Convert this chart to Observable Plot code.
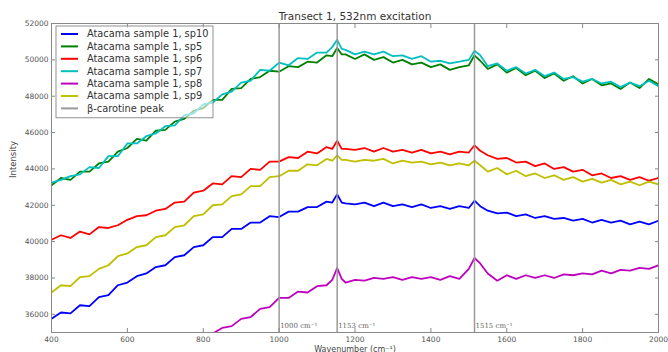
<!DOCTYPE html>
<html>
<head>
<meta charset="utf-8">
<script src="https://cdn.jsdelivr.net/npm/d3@7"></script>
<script src="https://cdn.jsdelivr.net/npm/@observablehq/plot@0.6"></script>
<style>
  html, body { margin: 0; padding: 0; background: #fff; }
  #chart { width: 668px; height: 352px; }
</style>
</head>
<body>
<div id="chart"></div>
<script>
const title = "Transect 1, 532nm excitation";
const xLabel = "Wavenumber (cm⁻¹)";
const yLabel = "Intensity";
const xTicks = [400, 600, 800, 1000, 1200, 1400, 1600, 1800, 2000];
const yTicks = [36000, 38000, 40000, 42000, 44000, 46000, 48000, 50000, 52000];
const peaks = [1000, 1153, 1515];
const peakLabels = ["1000 cm⁻¹", "1153 cm⁻¹", "1515 cm⁻¹"];
const seriesNames = ["Atacama sample 1, sp10", "Atacama sample 1, sp5", "Atacama sample 1, sp6",
  "Atacama sample 1, sp7", "Atacama sample 1, sp8", "Atacama sample 1, sp9"];
const seriesColors = ["#0000ff", "#008000", "#ff0000", "#00bfbf", "#bf00bf", "#bfbf00"];
const peakName = "β-carotine peak";
const peakColor = "#9a9a9a";

const wavenumber = [400,425,450,475,500,525,550,575,600,625,650,675,700,725,750,775,800,825,850,875,900,925,950,975,
  1000,1025,1050,1075,1100,1125,1140,1153,1165,1175,1200,1225,1250,1275,1300,1325,1350,1375,1400,1425,1450,1475,1500,
  1515,1530,1550,1575,1600,1625,1650,1675,1700,1725,1750,1775,1800,1825,1850,1875,1900,1925,1950,1975,2000];

const sp10 = [35750,36100,36050,36500,36450,36950,37050,37600,37750,38100,38250,38600,38700,39150,39250,39700,39800,40250,40250,40700,40700,41050,41050,41400,
  41350,41650,41650,41900,41900,42200,42150,42600,42150,42100,42050,42150,41950,42150,41950,42050,41900,42050,41850,41950,41800,41950,41850,
  42250,41950,41700,41550,41600,41400,41500,41300,41400,41250,41300,41150,41250,41050,41200,41050,41150,40950,41100,40950,41150];
const sp5 = [43100,43500,43400,43850,43850,44300,44400,44950,45150,45650,45550,46100,46150,46600,46750,47200,47350,47800,47800,48400,48450,48950,49050,49400,
  49350,49650,49600,49900,49850,50250,50200,50650,50300,50300,50050,50300,50000,50150,49850,50000,49750,49850,49600,49750,49450,49600,49700,
  50250,49950,49500,49750,49300,49550,49150,49400,49000,49250,48850,49100,48700,48950,48600,48700,48400,48750,48450,48950,48650];
const sp6 = [40100,40350,40200,40550,40400,40800,40750,40900,41200,41400,41450,41700,41800,42150,42200,42700,42800,43200,43150,43600,43550,44000,43950,44400,
  44400,44650,44600,44950,44850,45200,45100,45550,45100,45100,45050,45150,44950,45150,44950,45050,44900,45050,44850,44950,44800,44950,44900,
  45300,45000,44750,44550,44600,44350,44400,44150,44300,44000,44100,43850,43950,43650,43750,43500,43600,43400,43550,43350,43500];
const sp7 = [43250,43400,43600,43700,44100,44050,44700,44700,45400,45400,45800,45950,46350,46400,46950,47050,47550,47650,48100,48250,48750,48850,49450,49400,
  49850,49700,50100,50050,50400,50400,50700,51100,50600,50550,50300,50450,50300,50450,50200,50250,50050,50200,49900,49950,49800,49900,50000,
  50500,50250,49650,49800,49400,49600,49250,49450,49100,49300,48950,49050,48800,48950,48700,48800,48500,48750,48550,48850,48550];
const sp8 = [null,null,null,null,null,null,null,null,null,null,null,null,null,null,null,null,null,34950,35250,35350,35750,35850,36300,36400,
  36900,36900,37250,37200,37550,37600,37900,38550,37950,37750,37900,37850,38000,37950,38050,37900,38050,37950,38050,37900,38100,37950,38500,
  39100,38800,38250,37850,38150,37950,38150,38000,38150,38000,38200,38150,38250,38200,38400,38250,38450,38400,38550,38500,38700];
const sp9 = [37200,37600,37550,38050,38100,38500,38700,39200,39350,39700,39800,40250,40350,40800,40900,41400,41500,42000,42050,42500,42600,43050,43050,43550,
  43600,43900,43900,44250,44200,44550,44450,44750,44500,44500,44400,44500,44450,44550,44300,44450,44350,44400,44250,44350,44200,44300,44200,
  44450,44200,43850,44050,43700,43900,43600,43750,43500,43650,43400,43550,43300,43450,43250,43400,43150,43300,43100,43300,43150];

const seriesValues = [sp10, sp5, sp6, sp7, sp8, sp9];

const rows = [];
seriesValues.forEach((vals, i) => {
  vals.forEach((v, j) => {
    rows.push({series: seriesNames[i], x: wavenumber[j], y: v});
  });
});
const peakRows = peaks.map((p, i) => ({x: p, label: peakLabels[i]}));

const plot = Plot.plot({
  width: 668,
  height: 352,
  marginLeft: 51,
  marginRight: 10,
  marginTop: 23,
  marginBottom: 20,
  style: {fontFamily: "DejaVu Sans, sans-serif", fontSize: "7.5px", color: "#555", background: "#fff"},
  x: {domain: [400, 2000]},
  y: {domain: [35000, 52000]},
  color: {domain: seriesNames, range: seriesColors},
  marks: [
    Plot.line(rows, {x: "x", y: "y", z: "series", stroke: "series", strokeWidth: 1.8, strokeLinejoin: "round", clip: true}),
    Plot.ruleX(peakRows, {x: "x", stroke: peakColor, strokeWidth: 1.5}),
    Plot.text(peakRows, {x: "x", y: 35000, text: "label", textAnchor: "start", dx: 1, dy: -7,
      fontFamily: "DejaVu Serif, serif", fontSize: 7, fill: "#666"}),
    Plot.frame({stroke: "#888", strokeWidth: 1}),
    Plot.axisX({ticks: xTicks, tickSize: -4, tickPadding: 8, stroke: "#888", tickFormat: d => String(d), label: null}),
    Plot.axisX({ticks: xTicks, anchor: "top", tickSize: -4, tickFormat: () => "", stroke: "#888", label: null}),
    Plot.axisY({ticks: yTicks, tickSize: -4, tickPadding: 7, stroke: "#888", tickFormat: d => String(d), label: null}),
    Plot.axisY({ticks: yTicks, anchor: "right", tickSize: -4, tickFormat: () => "", stroke: "#888", label: null}),
    Plot.text([xLabel], {frameAnchor: "bottom", lineAnchor: "bottom", dy: 19, text: d => d, fontSize: 8, fill: "#444"}),
    Plot.text([yLabel], {frameAnchor: "left", dx: -38, rotate: -90, text: d => d, fontSize: 8.5, fill: "#444"}),
    Plot.text([title], {frameAnchor: "top", lineAnchor: "bottom", dy: -4, text: d => d, fontSize: 10.5, fill: "#333"})
  ]
});

document.getElementById("chart").appendChild(plot);

// Legend (matplotlib style, inside the upper-left of the axes)
const svg = d3.select(plot);
const lg = svg.append("g").attr("font-family", "DejaVu Sans, sans-serif").attr("font-size", 9.8)
  .attr("text-anchor", "start");
const entries = seriesNames.map((n, i) => ({name: n, color: seriesColors[i]})).concat([{name: peakName, color: peakColor}]);
const lx = 56, ly = 26, lw = 157, rowH = 12.4;
lg.append("rect").attr("x", lx).attr("y", ly).attr("width", lw).attr("height", entries.length * rowH + 5)
  .attr("fill", "#fff").attr("fill-opacity", 0.6).attr("stroke", "#777").attr("stroke-width", 0.8);
entries.forEach((e, i) => {
  const cy = ly + 8 + i * rowH;
  lg.append("line").attr("x1", lx + 5).attr("x2", lx + 22).attr("y1", cy).attr("y2", cy)
    .attr("stroke", e.color).attr("stroke-width", 2);
  lg.append("text").attr("x", lx + 31).attr("y", cy).attr("dy", "0.35em").attr("fill", "#333")
    .attr("text-anchor", "start").text(e.name);
});
</script>
</body>
</html>
